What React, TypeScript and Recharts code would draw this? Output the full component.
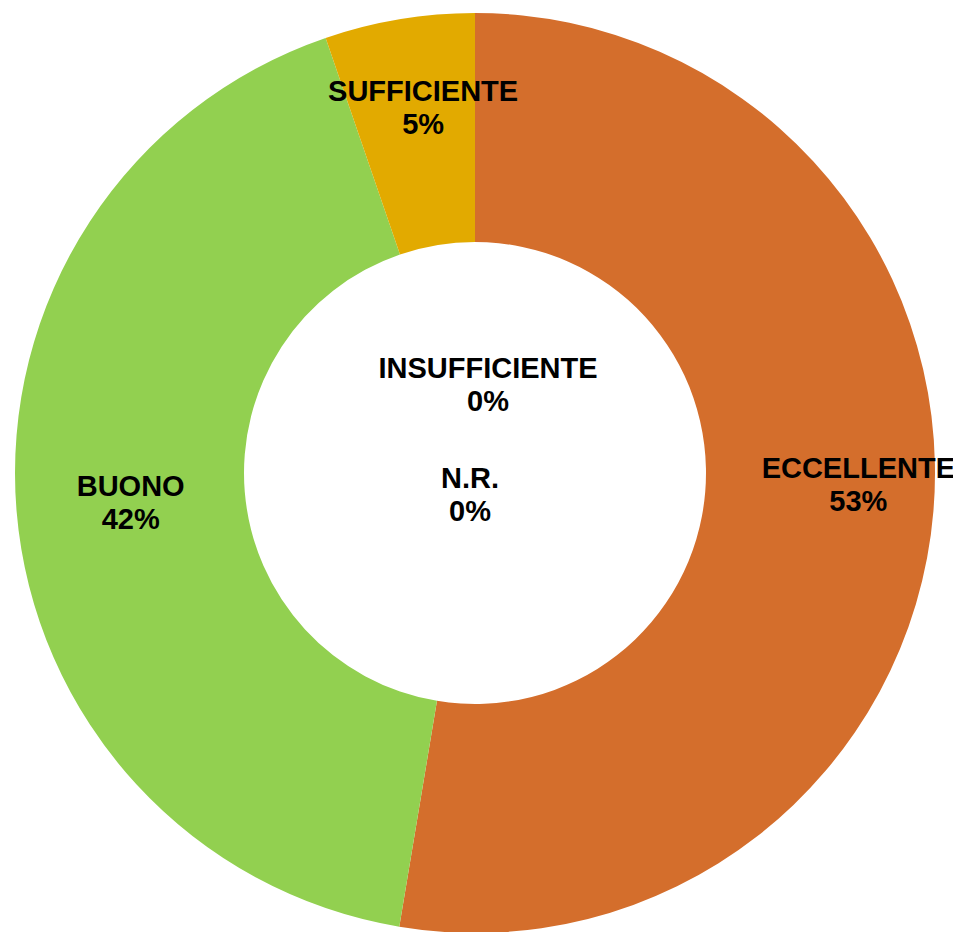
import React from 'react';
import { PieChart, Pie, Cell } from 'recharts';

const categories = ['ECCELLENTE', 'BUONO', 'SUFFICIENTE', 'INSUFFICIENTE', 'N.R.'];
const counts = [20, 16, 2, 0, 0];
const colors = ['#D46E2C', '#92D050', '#E2AA00', '#C00000', '#7F7F7F'];

const data = categories.map((name, i) => ({ name, value: counts[i] }));

const RAD = Math.PI / 180;

// zero slices get their label in the hole, like the original
const holeOffsets: Record<string, [number, number]> = {
  INSUFFICIENTE: [13, -89],
  'N.R.': [-5, 21],
};

// small nudges so the labels sit where the original put them
const nudges: Record<string, [number, number]> = {
  ECCELLENTE: [39, -18],
  BUONO: [0, 0],
  SUFFICIENTE: [5, -25],
};

const renderLabel = (props: any) => {
  const { cx, cy, midAngle, innerRadius, outerRadius, percent, name } = props;
  let x: number;
  let y: number;
  if (holeOffsets[name]) {
    x = cx + holeOffsets[name][0];
    y = cy + holeOffsets[name][1];
  } else {
    const r = (innerRadius + outerRadius) / 2;
    const n = nudges[name] || [0, 0];
    x = cx + r * Math.cos(-midAngle * RAD) + n[0];
    y = cy + r * Math.sin(-midAngle * RAD) + n[1];
  }
  return (
    <text
      x={x}
      y={y}
      textAnchor="middle"
      fill="#000"
      style={{ fontFamily: 'Liberation Sans, Arial, sans-serif', fontSize: 29, fontWeight: 'bold' }}
    >
      <tspan x={x} dy={-6}>{name}</tspan>
      <tspan x={x} dy={33}>{`${Math.round(percent * 100)}%`}</tspan>
    </text>
  );
};

export default function App() {
  return (
    <div style={{ width: 953, height: 924 }}>
      <PieChart width={953} height={924} margin={{ top: 0, right: 0, bottom: 0, left: 0 }}>
        <Pie
          data={data}
          dataKey="value"
          nameKey="name"
          cx={467}
          cy={465}
          innerRadius={231}
          outerRadius={460}
          startAngle={90}
          endAngle={-270}
          stroke="none"
          label={renderLabel}
          labelLine={false}
          isAnimationActive={false}
        >
          {data.map((d, i) => (
            <Cell key={d.name} fill={colors[i]} />
          ))}
        </Pie>
      </PieChart>
    </div>
  );
}
